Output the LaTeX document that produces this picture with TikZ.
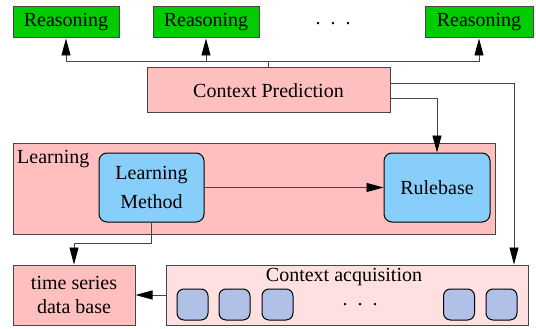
\documentclass[tikz,border=0pt]{standalone}
\usepackage{fontspec}
\setmainfont{Liberation Serif}
\usetikzlibrary{arrows.meta,calc}
\definecolor{rgreen}{RGB}{0,204,0}
\definecolor{rpink}{RGB}{255,191,191}
\definecolor{capink}{RGB}{255,224,224}
\definecolor{lblue}{RGB}{135,206,250}
\definecolor{sblue}{RGB}{176,192,230}
\definecolor{bord}{RGB}{70,70,70}
\begin{document}
\begin{tikzpicture}[x=1pt,y=-1pt,
  every node/.style={font=\fontsize{20}{24}\selectfont, inner sep=0pt},
  box/.style={draw=bord, line width=1pt, minimum width=#1},
  reason/.style={box=106pt, fill=rgreen, minimum height=31pt},
  rbox/.style={box=105pt, fill=lblue, minimum height=69pt, rounded corners=8pt, draw=black},
  small/.style={box=31pt, fill=sblue, minimum height=31pt, rounded corners=7pt, draw=black},
  dotsty/.style={anchor=base, text height=3pt, text depth=0pt},
  conn/.style={draw=bord, line width=0.9pt},
  arr/.style={conn, -{Triangle[length=17pt,width=9pt,color=black]}}]
\useasboundingbox (0,0) rectangle (536,329);
% reasoning boxes
\node[reason] (R1) at (66,22.5) {Reasoning};
\node[reason] (R2) at (206,22.5) {Reasoning};
\node[reason, minimum width=108pt] (R3) at (479,22.5) {Reasoning};
\node[dotsty] (dots1) at (333,25) {.\hspace{10pt}.\hspace{10pt}.};
% context prediction
\node[box=243pt, fill=rpink, minimum height=45pt] (CP) at (268.5,90.5) {Context Prediction};
% learning
\node[box=482pt, fill=rpink, minimum height=91pt] (L) at (254,188.5) {};
\node[anchor=west] (Llab) at (17,159) {Learning};
\node[rbox, align=center] (LM) at (151.5,187.5) {Learning\\[5pt]Method};
\node[rbox, minimum width=106pt] (RB) at (437,187.5) {Rulebase};
% bottom
\node[box=122pt, fill=rpink, minimum height=60pt, align=center] (TS) at (74,295) {time series\\data base};
\node[box=362pt, fill=capink, minimum height=60pt] (CA) at (347,295) {};
\node (CAlab) at (344,277) {Context acquisition};
\node[small] (s1) at (192.5,304.5) {};
\node[small] (s2) at (234.5,304.5) {};
\node[small] (s3) at (277.5,304.5) {};
\node[small] (s4) at (459,304.5) {};
\node[small] (s5) at (501.5,304.5) {};
\node[dotsty] (dots2) at (360,305) {.\hspace{10pt}.\hspace{10pt}.};
% connectors
\coordinate (bus) at ($(CP.north)+(0,-6)$);
\draw[conn] (CP.north) -- (bus);
\draw[arr] (bus) -| (R1.south);
\draw[arr] (bus) -| (R2.south);
\draw[arr] (bus) -| (R3.south);
\coordinate (xr) at (514,0);
\coordinate (cpa) at ($(CP.east)+(0,-7.5)$);
\coordinate (cpb) at ($(CP.east)+(0,7.5)$);
\draw[arr] (cpa) -| (CA.north -| xr);
\draw[arr] (cpb) -| (RB.north);
\draw[arr] (LM.east) -- (RB.west);
\draw[arr] (LM.south) -- ++(0,21) -| (TS.north);
\draw[arr] (CA.west) -- (TS.east);
\end{tikzpicture}
\end{document}
